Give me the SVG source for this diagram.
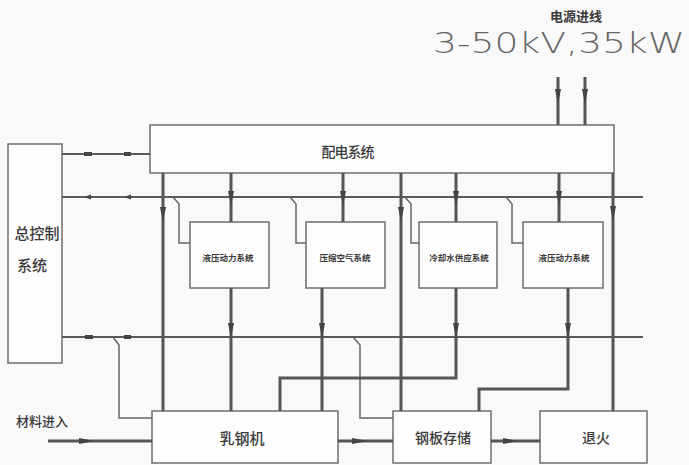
<svg xmlns="http://www.w3.org/2000/svg" xmlns:xlink="http://www.w3.org/1999/xlink" width="689" height="465" viewBox="0 0 689 465">
<style>
.box{fill:#fdfdfd;stroke:#6e6e6e;stroke-width:1.5}
.pw{fill:none;stroke:#555;stroke-width:3}
.ct{fill:none;stroke:#5a5a5a;stroke-width:2}
.br{fill:none;stroke:#666;stroke-width:1.5}
.ah{fill:#444}
.t{font-family:"Noto Sans CJK SC","Noto Sans CJK JP",sans-serif;fill:#3a3a3a;text-anchor:middle;dominant-baseline:central;font-weight:500}
.big{font-size:14px}
.sm{font-size:8.5px;font-weight:bold}
.mk{fill:#444}
</style>
<defs>
<path id="ad" d="M-3,-15 L3,-15 L0,0 Z"/>
<path id="ar" d="M-16,-3 L-16,3 L0,0 Z"/>
<path id="al" d="M0,-2.5 L0,2.5 L-7,0 Z"/>
</defs>
<rect width="689" height="465" fill="#f9f9f9"/>

<g id="power-input-label">
<text class="t" x="576" y="15" style="font-size:13px;font-weight:bold">电源进线</text>
<text x="433" y="53" textLength="252" lengthAdjust="spacingAndGlyphs" style="font-family:'DejaVu Sans ExtraLight','DejaVu Sans',sans-serif;font-weight:200;font-size:29px;fill:#666">3-50kV,35kW</text>
</g>

<g id="n-dist"><rect class="box" x="150" y="125" width="464" height="48"/><text class="t big" x="348" y="151" textLength="53">配电系统</text></g>
<g id="n-ctrl"><rect class="box" x="8" y="144" width="54" height="219"/><text class="t big" x="37" y="232" style="font-size:15px">总控制</text><text class="t big" x="32" y="264" style="font-size:15px">系统</text></g>
<g id="n-hyd1"><rect class="box" x="190" y="222" width="79" height="66"/><text class="t sm" x="228" y="257">液压动力系统</text></g>
<g id="n-air"><rect class="box" x="306" y="222" width="79" height="66"/><text class="t sm" x="345" y="257">压缩空气系统</text></g>
<g id="n-cool"><rect class="box" x="419" y="222" width="78" height="66"/><text class="t sm" x="459" y="257">冷却水供应系统</text></g>
<g id="n-hyd2"><rect class="box" x="523" y="222" width="80" height="66"/><text class="t sm" x="564" y="257">液压动力系统</text></g>
<g id="n-mill"><rect class="box" x="152" y="411" width="186" height="52"/><text class="t big" x="242" y="437" style="font-size:15px">乳钢机</text></g>
<g id="n-store"><rect class="box" x="393" y="411" width="98" height="52"/><text class="t big" x="443" y="437">钢板存储</text></g>
<g id="n-anneal"><rect class="box" x="540" y="411" width="107" height="52"/><text class="t big" x="596" y="437">退火</text></g>
<g id="material-label"><text class="t" x="42" y="420" style="font-size:13px">材料进入</text></g>

<g id="connectors">
<path class="pw" d="M558,77V125M585,77V125"/>
<use href="#ad" class="ah" x="558" y="104"/><use href="#ad" class="ah" x="585" y="104"/>
<path class="ct" d="M62,154H150M62,197H643M62,337H643"/>
<rect class="mk" x="84" y="152" width="8" height="4"/><rect class="mk" x="124" y="152" width="7" height="4"/>
<use href="#al" class="mk" x="91" y="197"/><use href="#al" class="mk" x="131" y="197"/>
<rect class="mk" x="85" y="335" width="8" height="4"/><rect class="mk" x="124" y="335" width="7" height="4"/>
<path class="br" d="M173,197L179,204V243H190M290,197L296,204V243H306M405,197L411,204V243H419M506,197L512,204V243H523M113,337L119,345V418H152M353,337L360,345V418H393"/>
<path class="pw" d="M163,173V411M231,173V222M231,288V411M343,173V222M322,288V411M401,173V411M456,173V222M456,288V378H280V411M559,173V222M568,288V389H479V411M613,173V411"/>
<use href="#ad" class="ah" x="163" y="222"/><use href="#ad" class="ah" x="401" y="222"/><use href="#ad" class="ah" x="613" y="221"/>
<use href="#ad" class="ah" x="231" y="206"/><use href="#ad" class="ah" x="343" y="206"/><use href="#ad" class="ah" x="456" y="206"/><use href="#ad" class="ah" x="559" y="206"/>
<use href="#ad" class="ah" x="231" y="338"/><use href="#ad" class="ah" x="322" y="338"/><use href="#ad" class="ah" x="456" y="338"/><use href="#ad" class="ah" x="568" y="338"/>
<path class="pw" d="M48,441H152M338,441H393M491,441H540"/>
<use href="#ar" class="ah" x="95" y="441"/><use href="#ar" class="ah" x="368" y="441"/><use href="#ar" class="ah" x="519" y="441"/>
</g>
</svg>
